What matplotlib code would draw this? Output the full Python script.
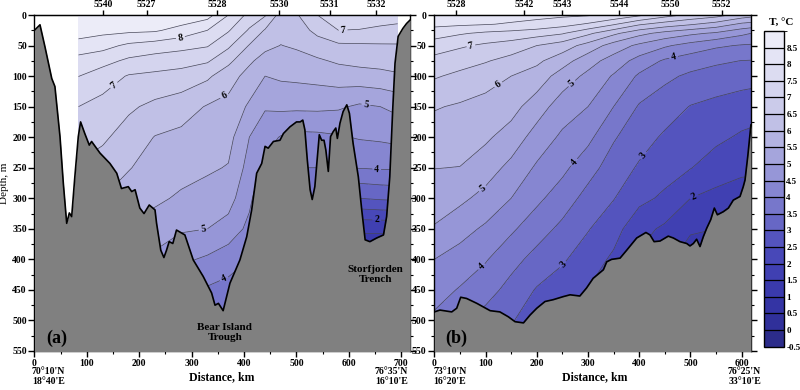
import numpy as np
import matplotlib
matplotlib.use("Agg")
import matplotlib.pyplot as plt
from matplotlib.colors import ListedColormap, BoundaryNorm
from matplotlib.ticker import MultipleLocator

# ---------------- section (a): temperature, deg C ----------------
dist_a = [84, 130, 180, 230, 280, 330, 370, 410, 440, 470, 500, 540, 580, 620, 660, 693]
depth_a = [0, 25, 50, 75, 100, 150, 200, 250, 300, 350, 400, 450, 500, 550]
temp_a = [
    [8.9, 8.9, 8.9, 8.9, 8.9, 8.7, 8.0, 7.35, 7.05, 6.3, 6.45, 7.0, 7.3, 7.3, 7.25, 7.2],
    [8.73, 8.65, 8.61, 8.57, 8.31, 8.0, 7.55, 6.94, 6.46, 6.15, 6.26, 6.64, 7.0, 6.98, 6.9, 6.85],
    [8.32, 8.17, 7.9, 7.77, 7.66, 7.54, 7.09, 6.47, 6.13, 5.99, 6.06, 6.27, 6.41, 6.43, 6.45, 6.46],
    [7.8, 7.67, 7.4, 7.27, 7.19, 7.06, 6.63, 6.08, 5.81, 5.79, 5.84, 5.93, 6.07, 6.14, 6.18, 6.22],
    [7.51, 7.25, 6.96, 6.89, 6.81, 6.59, 6.2, 5.83, 5.5, 5.58, 5.61, 5.66, 5.75, 5.8, 5.85, 5.93],
    [7.0, 6.83, 6.58, 6.38, 6.23, 5.96, 5.86, 5.42, 5.05, 5.1, 5.1, 5.11, 5.07, 4.92, 5.0, 5.13],
    [6.72, 6.58, 6.29, 5.98, 5.88, 5.77, 5.67, 5.0, 4.69, 4.47, 4.36, 4.38, 4.45, 4.54, 4.58, 4.64],
    [6.44, 6.29, 6.03, 5.78, 5.67, 5.57, 5.47, 4.81, 4.36, 4.13, 4.0, 4.0, 4.0, 4.02, 4.05, 4.07],
    [6.17, 6.0, 5.74, 5.59, 5.43, 5.3, 5.19, 4.62, 4.0, 3.97, 3.96, 3.93, 3.3, 3.0, 3.07, 3.1],
    [5.98, 5.75, 5.44, 5.28, 5.06, 5.0, 4.82, 4.36, 3.95, 3.93, 3.92, 3.87, 2.5, 1.57, 1.57, 1.6],
    [5.92, 5.5, 5.13, 4.88, 4.6, 4.42, 4.19, 4.0, 3.9, 3.9, 3.9, 3.8, 2.0, 1.1, 1.1, 1.1],
    [5.86, 5.35, 4.93, 4.46, 4.06, 3.94, 3.86, 3.9, 3.85, 3.85, 3.85, 3.8, 1.8, 1.0, 1.0, 1.0],
    [5.8, 5.2, 4.8, 4.2, 3.6, 3.6, 3.68, 3.8, 3.8, 3.8, 3.8, 3.8, 1.8, 1.0, 1.0, 1.0],
    [5.8, 5.2, 4.8, 4.2, 3.6, 3.6, 3.68, 3.8, 3.8, 3.8, 3.8, 3.8, 1.8, 1.0, 1.0, 1.0],
]
bottom_x_a = [0, 10.5, 20, 33, 39, 48.7, 55, 61.5, 66.5, 71, 77, 83.6, 88, 96, 104.6, 109,
              125, 144, 157, 166, 179, 185.5, 192, 201, 209, 219, 230, 233, 241, 247, 252,
              257, 264, 271, 281, 287, 303, 322, 338, 344.5, 351, 360, 373, 392, 405, 414.5,
              424, 433.6, 440, 446, 456, 468.5, 475, 487.6, 500, 507, 512, 516, 520.6, 526,
              530, 535, 543.5, 548, 552.5, 556, 560.7, 565, 570, 575, 578, 583, 589, 596,
              601, 608, 618, 624.5, 631, 640, 653, 666, 672, 678, 683.6, 688, 694, 703, 710, 717]
bottom_d_a = [25, 16, 52, 104, 117, 199, 275, 341, 324, 330, 265, 199, 175, 194, 213, 207,
              226, 243, 259, 284, 281, 289, 286, 316, 325, 311, 319, 341, 385, 397, 385,
              371, 374, 352, 357, 360, 401, 428, 455, 475, 472, 484, 439, 401, 363, 319,
              259, 243, 215, 218, 207, 205, 194, 183, 175, 175, 172, 188, 237, 286,
              302, 281, 196, 205, 205, 221, 256, 199, 191, 185, 202, 177, 158, 147,
              161, 210, 265, 319, 368, 371, 365, 360, 330, 265, 155, 79, 35, 22, 14, 8]
stations_a = [131, 214, 349, 467, 563, 652]
station_names_a = ["5540", "5527", "5528", "5530", "5531", "5532"]
labels_a = [(278, 33), (147, 110), (357, 124), (322, 352), (357, 423),
            (589, 27), (634, 137), (653, 254), (653, 337)]

# ---------------- section (b) ----------------
dist_b = [0, 50, 100, 150, 200, 250, 300, 350, 400, 450, 500, 550, 600, 618]
depth_b = [0, 15, 30, 50, 75, 100, 150, 200, 250, 300, 350, 400, 450, 500, 550]
temp_b = [
    [8.35, 8.3, 8.25, 8.2, 8.15, 8.1, 8.05, 7.9, 7.6, 7.2, 6.9, 6.7, 6.3, 6.2],
    [8.12, 8.08, 8.03, 7.95, 7.85, 7.68, 7.44, 7.06, 6.57, 6.29, 6.06, 5.8, 5.4, 5.33],
    [7.73, 7.55, 7.41, 7.33, 7.21, 7.04, 6.6, 6.11, 5.65, 5.33, 5.1, 4.92, 4.61, 4.5],
    [7.24, 7.07, 6.91, 6.77, 6.5, 6.25, 5.81, 5.28, 4.89, 4.57, 4.31, 4.08, 3.96, 3.94],
    [6.85, 6.69, 6.54, 6.33, 6.1, 5.72, 5.2, 4.79, 4.31, 3.93, 3.73, 3.59, 3.49, 3.48],
    [6.55, 6.39, 6.21, 6.0, 5.79, 5.27, 4.88, 4.45, 3.92, 3.61, 3.41, 3.28, 3.2, 3.18],
    [6.04, 5.94, 5.83, 5.68, 5.24, 4.75, 4.5, 4.0, 3.45, 3.23, 2.98, 2.87, 2.77, 2.74],
    [5.76, 5.72, 5.58, 5.29, 4.79, 4.41, 4.13, 3.55, 3.2, 2.93, 2.75, 2.61, 2.43, 2.39],
    [5.51, 5.49, 5.24, 4.86, 4.43, 4.12, 3.69, 3.27, 2.94, 2.7, 2.52, 2.25, 2.1, 2.08],
    [5.24, 5.11, 4.84, 4.5, 4.11, 3.75, 3.33, 3.02, 2.63, 2.41, 2.0, 1.86, 1.78, 1.8],
    [4.96, 4.68, 4.42, 4.08, 3.72, 3.38, 3.03, 2.69, 2.17, 1.91, 1.55, 1.5, 1.55, 1.6],
    [4.5, 4.3, 4.04, 3.67, 3.33, 3.06, 2.75, 2.41, 1.92, 1.6, 1.3, 1.3, 1.5, 1.5],
    [4.2, 3.96, 3.7, 3.33, 2.96, 2.75, 2.49, 2.2, 1.8, 1.5, 1.3, 1.3, 1.5, 1.5],
    [3.9, 3.58, 3.3, 3.06, 2.6, 2.45, 2.3, 2.1, 1.8, 1.5, 1.3, 1.3, 1.5, 1.5],
    [3.8, 3.5, 3.2, 2.9, 2.4, 2.3, 2.2, 2.0, 1.8, 1.5, 1.3, 1.3, 1.5, 1.5],
]
bottom_x_b = [0, 11, 34, 43.7, 51.5, 63, 83, 109, 128, 144.5, 157.5, 174, 187, 200, 216,
              232, 251.5, 265, 284, 297, 310, 330, 336.5, 346, 362.5, 375.5, 395, 413,
              421, 429, 440.5, 456.6, 466.5, 479.5, 492.6, 499, 505.6, 512, 518.6, 525,
              531.7, 539.5, 546.6, 552.5, 564, 574, 583.6, 596.7, 603, 606.5, 612, 618]
bottom_d_b = [486, 483, 486, 480, 462, 464, 472, 484, 486, 494, 502, 504, 491, 480, 469,
              466, 461, 458, 460, 447, 431, 417, 404, 400, 398, 385, 365, 356,
              360, 371, 370, 362, 365, 371, 374, 378, 374, 367, 379, 363,
              349, 335, 316, 327, 322, 316, 303, 297, 281, 270, 230, 180]
stations_b = [42, 176, 250, 360, 461, 561]
station_names_b = ["5528", "5542", "5543", "5544", "5550", "5552"]
labels_b = [(71, 49), (124, 113), (260, 104), (466, 65), (96, 286), (279, 245),
            (411, 232), (88, 408), (252, 409), (506, 297)]

levels = np.arange(-0.5, 9.01, 0.5)
band_colors = ["#2c2c8a", "#30309a", "#3434a4", "#3a3aac", "#4040b2", "#4848b8",
               "#5454be", "#6767c5", "#7777cb", "#8686d1", "#9696d7", "#a5a5dc",
               "#b3b3e1", "#c0c0e6", "#cbcbea", "#d4d4ee", "#dcdcf1", "#e4e4f5", "#ececf8"]

plt.rcParams['font.family'] = ['Liberation Serif', 'DejaVu Serif']
plt.rcParams['font.weight'] = 'bold'

cmap = ListedColormap(band_colors)
norm = BoundaryNorm(levels, cmap.N)
half_levels = [lv for lv in levels if lv != int(lv)]
whole_levels = [lv for lv in levels if lv == int(lv)]


def draw_section(ax, dist, depth, temp, bx, bd, xmax, xtick_max, stations, names, label_pos):
    ax.set_xlim(0, xmax)
    ax.set_ylim(550, 0)
    cf = ax.contourf(dist, depth, temp, levels=levels, cmap=cmap, norm=norm, zorder=1)
    ax.contour(dist, depth, temp, levels=half_levels, colors="#454558",
               linewidths=0.5, zorder=2)
    cs = ax.contour(dist, depth, temp, levels=whole_levels, colors="#454558",
                    linewidths=0.5, zorder=2)
    texts = ax.clabel(cs, manual=label_pos, fmt="%d", colors="k",
                      fontsize=7, inline=True, inline_spacing=2)
    for t in texts:
        t.set_fontweight("bold")
        t.set_zorder(2.5)
    ax.fill_between(bx, bd, 560, color="#808080", lw=0, zorder=3)
    ax.plot(bx, bd, color="k", lw=1.2, zorder=4)

    ax.set_xticks(np.arange(0, xtick_max + 1, 100))
    ax.xaxis.set_minor_locator(MultipleLocator(50))
    ax.set_yticks(np.arange(0, 551, 50))
    ax.yaxis.set_minor_locator(MultipleLocator(25))
    ax.tick_params(which="both", direction="out", labelsize=7, right=True,
                   top=False, pad=1.5)
    ax.tick_params(which="major", length=4, width=1)
    ax.tick_params(which="minor", length=2.5, width=0.8)
    for sp in ax.spines.values():
        sp.set_linewidth(1.0)

    top = ax.secondary_xaxis("top")
    top.set_xticks(stations, labels=names)
    top.tick_params(direction="inout", length=7, width=1, labelsize=7, pad=0.5)
    top.xaxis.set_minor_locator(plt.NullLocator())
    return cf


fig = plt.figure(figsize=(8, 3.9), dpi=100)
ax_a = fig.add_axes([0.0431, 0.1, 0.4694, 0.8615])
ax_b = fig.add_axes([0.5429, 0.1, 0.3955, 0.8615])
cax = fig.add_axes([0.9554, 0.111, 0.025, 0.8095])

cf = draw_section(ax_a, dist_a, depth_a, temp_a, bottom_x_a, bottom_d_a, 716.6, 700,
                  stations_a, station_names_a, labels_a)
draw_section(ax_b, dist_b, depth_b, temp_b, bottom_x_b, bottom_d_b, 617.6, 600,
             stations_b, station_names_b, labels_b)

ax_a.set_ylabel("Depth, m", fontsize=8, labelpad=2)

ax_a.text(0.032, 0.012, "(a)", transform=ax_a.transAxes, fontsize=13,
          ha="left", va="bottom", zorder=5)
ax_b.text(0.034, 0.012, "(b)", transform=ax_b.transAxes, fontsize=13,
          ha="left", va="bottom", zorder=5)
ax_a.text(363, 520, "Bear Island\nTrough", fontsize=8, ha="center", va="center",
          linespacing=1.1, zorder=5)
ax_a.text(650, 425, "Storfjorden\nTrench", fontsize=8, ha="center", va="center",
          linespacing=1.1, zorder=5)

fig.text(222 / 800, 1 - 377 / 390, "Distance, km", fontsize=8.5, ha="center", va="center")
fig.text(595 / 800, 1 - 377 / 390, "Distance, km", fontsize=8.5, ha="center", va="center")
fig.text(32 / 800, 1 - 367 / 390, "70°10'N\n18°40'E", fontsize=7, ha="left", va="top",
         linespacing=1.1)
fig.text(408 / 800, 1 - 367 / 390, "76°35'N\n16°10'E", fontsize=7, ha="right", va="top",
         linespacing=1.1)
fig.text(433 / 800, 1 - 367 / 390, "73°10'N\n16°20'E", fontsize=7, ha="left", va="top",
         linespacing=1.1)
fig.text(761 / 800, 1 - 367 / 390, "76°25'N\n33°10'E", fontsize=7, ha="right", va="top",
         linespacing=1.1)

cb = fig.colorbar(cf, cax=cax, ticks=levels[:-1], drawedges=True)
cb.ax.set_yticklabels([f"{v:g}" for v in levels[:-1]])
cb.ax.tick_params(length=0, labelsize=6.5, pad=1.5)
cb.outline.set_linewidth(1.0)
cb.dividers.set_color("k")
cb.dividers.set_linewidth(0.9)
fig.text(781 / 800, 1 - 22 / 390, "T, °C", fontsize=8, ha="center", va="center")

fig.savefig("out.png", dpi=100)
